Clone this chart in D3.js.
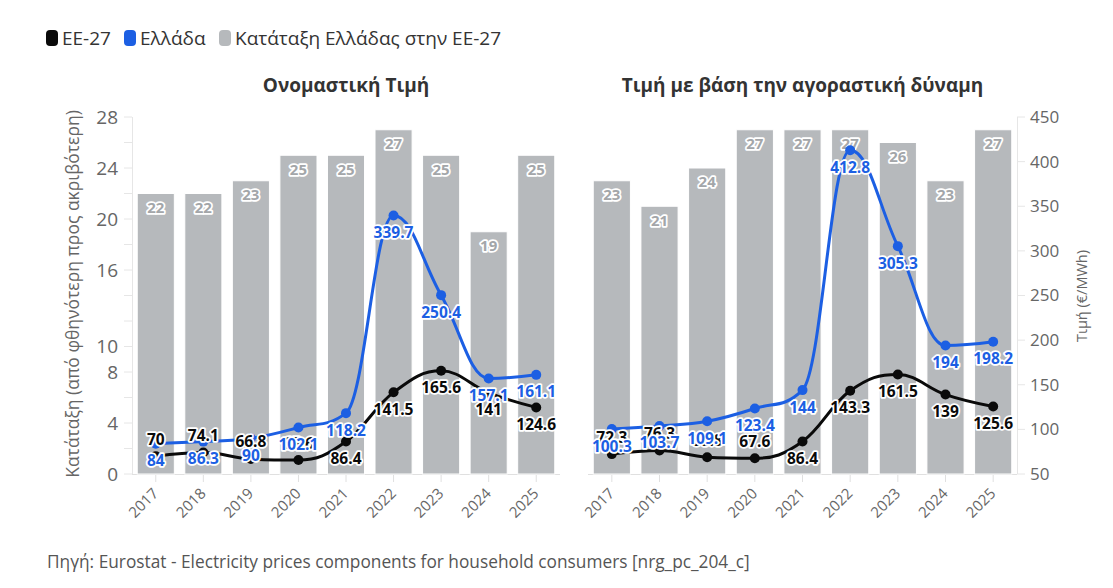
<!DOCTYPE html>
<html><head><meta charset="utf-8">
<script src="https://cdn.jsdelivr.net/npm/d3@7"></script>
<style>
body{margin:0;background:#fff;}
svg{font-family:"Open Sans","Noto Sans",sans-serif;}
</style></head><body>
<svg id="c" width="1113" height="588"></svg>
<script>
const years = ["2017","2018","2019","2020","2021","2022","2023","2024","2025"];
// Ονομαστική Τιμή
const nomRank = [22,22,23,25,25,27,25,19,25];
const nomEU   = [70,74.1,66.8,65.6,86.4,141.5,165.6,141,124.6];
const nomGR   = [84,86.3,90,102.1,118.2,339.7,250.4,157.1,161.1];
// Τιμή με βάση την αγοραστική δύναμη
const ppsRank = [23,21,24,27,27,27,26,23,27];
const ppsEU   = [72.3,76.3,68.8,67.6,86.4,143.3,161.5,139,125.6];
const ppsGR   = [100.3,103.7,109.1,123.4,144,412.8,305.3,194,198.2];
const rankTicks = [0,4,8,10,16,20,24,28];
const priceTicks = [50,100,150,200,250,300,350,400,450];
const titles = ["Ονομαστική Τιμή","Τιμή με βάση την αγοραστική δύναμη"];
const legendItems = ["ΕΕ-27","Ελλάδα","Κατάταξη Ελλάδας στην ΕΕ-27"];

const BLUE="#1c5fe3", BLACK="#0a0a0a", GRAY="#b6b9bc";
const svg = d3.select("#c");
const yTop=117, yBot=474;
const yRank = d3.scaleLinear().domain([0,28]).range([yBot,yTop]);
const yPrice = d3.scaleLinear().domain([50,450]).range([yBot,yTop]);

function hcSpline(pts){
  const sm=1.5, den=sm+1;
  let d = "M"+pts[0][0]+","+pts[0][1];
  let lastRC=null;
  for(let i=1;i<pts.length;i++){
    const [px,py]=pts[i];
    let lcx=px, lcy=py, rc=null;
    if(i<pts.length-1){
      const [lx,ly]=pts[i-1], [nx,ny]=pts[i+1];
      lcx=(sm*px+lx)/den; lcy=(sm*py+ly)/den;
      let rcx=(sm*px+nx)/den, rcy=(sm*py+ny)/den;
      let corr=0;
      if(rcx!==lcx) corr=((rcy-lcy)*(rcx-px))/(rcx-lcx)+py-rcy;
      lcy+=corr; rcy+=corr;
      if(lcy>ly && lcy>py){lcy=Math.max(ly,py); rcy=2*py-lcy;}
      else if(lcy<ly && lcy<py){lcy=Math.min(ly,py); rcy=2*py-lcy;}
      if(rcy>ny && rcy>py){rcy=Math.max(ny,py); lcy=2*py-rcy;}
      else if(rcy<ny && rcy<py){rcy=Math.min(ny,py); lcy=2*py-rcy;}
      rc=[rcx,rcy];
    }
    const p0 = lastRC || pts[i-1];
    d += "C"+p0[0]+","+p0[1]+" "+lcx+","+lcy+" "+px+","+py;
    lastRC=rc;
  }
  return d;
}

function panel(x0,x1,rank,eu,gr,title){
  const x = d3.scaleBand().domain(years).range([x0,x1]).paddingInner(0.22).paddingOuter(0.11);
  const g = svg.append("g");
  g.append("text").attr("x",(x0+x1)/2).attr("y",92).attr("text-anchor","middle")
    .attr("font-size",19).attr("font-weight","bold").attr("fill","#333").text(title);
  g.append("line").attr("x1",x0).attr("x2",x1).attr("y1",yBot+0.5).attr("y2",yBot+0.5).attr("stroke","#e0e0e0");
  years.forEach(yr=>{
    const cx=x(yr)+x.bandwidth()/2;
    g.append("line").attr("x1",cx).attr("x2",cx).attr("y1",yBot).attr("y2",yBot+8).attr("stroke","#e0e0e0");
    g.append("text").attr("transform",`translate(${cx-4},${yBot+13}) rotate(-45)`)
      .attr("text-anchor","end").attr("dy","0.7em").attr("font-size",15).attr("fill","#666").text(yr);
  });
  g.selectAll("rect.bar").data(rank).join("rect").attr("class","bar")
    .attr("x",(d,i)=>x(years[i])).attr("width",x.bandwidth())
    .attr("y",d=>yRank(d)).attr("height",d=>yBot-yRank(d))
    .attr("fill",GRAY).attr("stroke","#fff").attr("stroke-width",1);
  g.selectAll("text.bl").data(rank).join("text").attr("class","bl")
    .attr("x",(d,i)=>x(years[i])+x.bandwidth()/2).attr("y",d=>yRank(d)+14)
    .attr("dy","0.35em").attr("text-anchor","middle").attr("font-size",15).attr("font-weight","bold")
    .attr("fill","#a3a6a9").attr("stroke","#fff").attr("stroke-width",3.5).attr("paint-order","stroke")
    .attr("stroke-linejoin","round").text(d=>d);
  const series=[[eu,BLACK],[gr,BLUE]];
  series.forEach(([vals,col])=>{
    const pts=vals.map((v,i)=>[x(years[i])+x.bandwidth()/2,yPrice(v)]);
    g.append("path").attr("d",hcSpline(pts)).attr("fill","none").attr("stroke",col).attr("stroke-width",3);
  });
  series.forEach(([vals,col])=>{
    g.selectAll(null).data(vals).join("circle")
      .attr("cx",(d,i)=>x(years[i])+x.bandwidth()/2).attr("cy",d=>yPrice(d)).attr("r",5).attr("fill",col);
  });
  series.forEach(([vals,col])=>{
    g.selectAll(null).data(vals).join("text")
      .attr("x",(d,i)=>x(years[i])+x.bandwidth()/2)
      .attr("y",d=>{const py=yPrice(d); return (py+17+8>yBot)? py-17 : py+17;})
      .attr("dy","0.35em").attr("text-anchor","middle").attr("font-size",15.5).attr("font-weight","bold")
      .attr("fill",col).attr("stroke","#fff").attr("stroke-width",3.5).attr("paint-order","stroke")
      .attr("stroke-linejoin","round").text(d=>d);
  });
}
panel(132,560,nomRank,nomEU,nomGR,titles[0]);
panel(588,1017,ppsRank,ppsEU,ppsGR,titles[1]);

const la = svg.append("g");
la.append("line").attr("x1",132.5).attr("x2",132.5).attr("y1",yTop).attr("y2",yBot).attr("stroke","#e6e6e6");
d3.range(0,29,2).forEach(v=>{
  la.append("line").attr("x1",124).attr("x2",132).attr("y1",yRank(v)).attr("y2",yRank(v)).attr("stroke","#e6e6e6");
});
la.selectAll("text").data(rankTicks).join("text").attr("x",118).attr("y",d=>yRank(d)).attr("dy","0.35em")
  .attr("text-anchor","end").attr("font-size",19).attr("fill","#666").text(d=>d);
svg.append("text").attr("transform","translate(79,294) rotate(-90)").attr("text-anchor","middle")
  .attr("font-size",17.5).attr("fill","#666").text("Κατάταξη (από φθηνότερη προς ακριβότερη)");
const ra = svg.append("g");
ra.append("line").attr("x1",1017.5).attr("x2",1017.5).attr("y1",yTop).attr("y2",yBot).attr("stroke","#e6e6e6");
ra.selectAll("line.t").data(priceTicks).join("line").attr("class","t").attr("x1",1017).attr("x2",1025)
  .attr("y1",d=>yPrice(d)).attr("y2",d=>yPrice(d)).attr("stroke","#e6e6e6");
ra.selectAll("text").data(priceTicks).join("text").attr("x",1030).attr("y",d=>yPrice(d)).attr("dy","0.35em")
  .attr("font-size",17).attr("fill","#666").text(d=>d);
svg.append("text").attr("transform","translate(1087,296) rotate(-90)").attr("text-anchor","middle")
  .attr("font-size",14.5).attr("fill","#666").text("Τιμή (€/MWh)");

const lg = svg.append("g");
const lx=[46,124,219], lc=[BLACK,BLUE,GRAY];
legendItems.forEach((t,i)=>{
  lg.append("rect").attr("x",lx[i]).attr("y",30).attr("width",12).attr("height",16).attr("rx",4).attr("fill",lc[i]);
  lg.append("text").attr("x",lx[i]+16).attr("y",38).attr("dy","0.35em").attr("font-size",19).attr("fill","#333").text(t);
});
svg.append("text").attr("x",47).attr("y",568).attr("font-size",17.3).attr("fill","#555")
  .text("Πηγή: Eurostat - Electricity prices components for household consumers [nrg_pc_204_c]");
</script></body></html>
